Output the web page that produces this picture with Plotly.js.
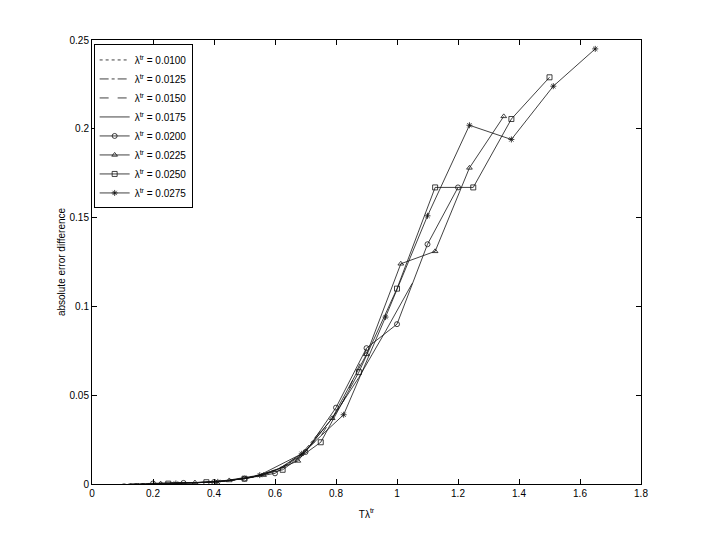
<!DOCTYPE html>
<html>
<head>
<meta charset="utf-8">
<script src="https://cdn.plot.ly/plotly-3.0.1.min.js"></script>
<style>
  html, body { margin: 0; padding: 0; background: #fff; }
  #chart { width: 708px; height: 545px; }
</style>
</head>
<body>
<div id="chart"></div>
<script>
// lambda^tr values, one per series
const lambdas = ['0.0100', '0.0125', '0.0150', '0.0175', '0.0200', '0.0225', '0.0250', '0.0275'];

// x = T * lambda
const x0100 = [0.1, 0.15, 0.2, 0.25, 0.3, 0.35, 0.4, 0.45, 0.5, 0.55, 0.6];
const y0100 = [0.0000, 0.0001, 0.0002, 0.0003, 0.0005, 0.0008, 0.0012, 0.0019, 0.0030, 0.0050, 0.0080];

const x0125 = [0.125, 0.1875, 0.25, 0.3125, 0.375, 0.4375, 0.5, 0.5625, 0.625, 0.6875, 0.75];
const y0125 = [0.0001, 0.0002, 0.0003, 0.0005, 0.0009, 0.0016, 0.0030, 0.0055, 0.0095, 0.0170, 0.0300];

const x0150 = [0.15, 0.225, 0.3, 0.375, 0.45, 0.525, 0.6, 0.675, 0.75, 0.825, 0.9];
const y0150 = [0.0001, 0.0002, 0.0005, 0.0009, 0.0019, 0.0038, 0.0075, 0.0145, 0.0270, 0.0470, 0.0760];

const x0175 = [0.175, 0.2625, 0.35, 0.4375, 0.525, 0.6125, 0.7, 0.7875, 0.875, 0.9625, 1.05];
const y0175 = [0.0002, 0.0004, 0.0008, 0.0016, 0.0038, 0.0085, 0.0185, 0.0370, 0.0600, 0.0860, 0.1130];

const x0200 = [0.2, 0.3, 0.4, 0.5, 0.6, 0.7, 0.8, 0.9, 1.0, 1.1, 1.2];
const y0200 = [0.0003, 0.0006, 0.0011, 0.0030, 0.0060, 0.0180, 0.0430, 0.0765, 0.0900, 0.1350, 0.1670];

const x0225 = [0.225, 0.3375, 0.45, 0.5625, 0.675, 0.7875, 0.9, 1.0125, 1.125, 1.2375, 1.35];
const y0225 = [0.0002, 0.0008, 0.0020, 0.0050, 0.0130, 0.0370, 0.0730, 0.1240, 0.1310, 0.1780, 0.2070];

const x0250 = [0.25, 0.375, 0.5, 0.625, 0.75, 0.875, 1.0, 1.125, 1.25, 1.375, 1.5];
const y0250 = [0.0002, 0.0010, 0.0030, 0.0080, 0.0235, 0.0630, 0.1100, 0.1670, 0.1670, 0.2055, 0.2290];

const x0275 = [0.275, 0.4125, 0.55, 0.6875, 0.825, 0.9625, 1.1, 1.2375, 1.375, 1.5125, 1.65];
const y0275 = [0.0003, 0.0012, 0.0050, 0.0170, 0.0390, 0.0940, 0.1510, 0.2020, 0.1940, 0.2240, 0.2450];

const xs = [x0100, x0125, x0150, x0175, x0200, x0225, x0250, x0275];
const ys = [y0100, y0125, y0150, y0175, y0200, y0225, y0250, y0275];

const dashes = ['dot', 'dashdot', 'dash', 'solid', 'solid', 'solid', 'solid', 'solid'];
const symbols = [null, null, null, null, 'circle-open', 'triangle-up-open', 'square-open', 'asterisk-open'];

const fontFamily = '"Liberation Sans Narrow", "Liberation Sans", Arial, sans-serif';

const data = lambdas.map((lam, i) => {
    const trace = {
        x: xs[i],
        y: ys[i],
        type: 'scatter',
        mode: symbols[i] ? 'lines+markers' : 'lines',
        name: 'λ<sup>tr</sup> = ' + lam,
        line: { color: '#111', width: 0.8, dash: dashes[i] }
    };
    if (symbols[i]) {
        trace.marker = {
            symbol: symbols[i],
            size: 5,
            color: '#111',
            line: { color: '#111', width: 0.8 }
        };
    }
    return trace;
});

const axisStyle = {
    showline: true,
    linecolor: '#000',
    linewidth: 1,
    mirror: 'ticks',
    ticks: 'inside',
    ticklen: 5,
    tickcolor: '#000',
    showgrid: false,
    zeroline: false,
    automargin: true,
    tickfont: { family: fontFamily, size: 10, color: '#000' }
};

const layout = {
    width: 708,
    height: 545,
    paper_bgcolor: '#fff',
    plot_bgcolor: '#fff',
    margin: { l: 92, r: 67, t: 40, b: 61 },
    font: { family: fontFamily, size: 10, color: '#000' },
    showlegend: true,
    legend: {
        x: 0.003,
        y: 0.99,
        xanchor: 'left',
        yanchor: 'top',
        bgcolor: '#fff',
        bordercolor: '#000',
        borderwidth: 1,
        tracegroupgap: 0,
        font: { family: fontFamily, size: 10, color: '#000' }
    },
    xaxis: Object.assign({}, axisStyle, {
        range: [0, 1.8],
        dtick: 0.2,
        tick0: 0,
        title: { text: 'Tλ<sup>tr</sup>', font: { family: fontFamily, size: 10, color: '#000' }, standoff: 12 }
    }),
    yaxis: Object.assign({}, axisStyle, {
        range: [0, 0.25],
        dtick: 0.05,
        tick0: 0,
        title: { text: 'absolute error difference', font: { family: fontFamily, size: 10, color: '#000' }, standoff: 2 }
    })
};

Plotly.newPlot('chart', data, layout, { displayModeBar: false, staticPlot: true });
</script>
</body>
</html>
